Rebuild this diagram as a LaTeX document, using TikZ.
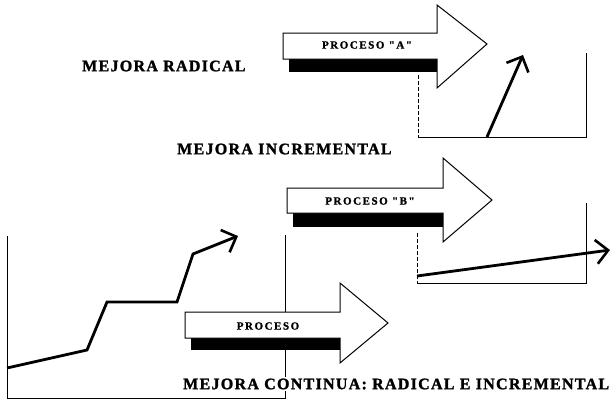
\documentclass[tikz,border=0pt]{standalone}
\usepackage{fontspec}
\setmainfont{Liberation Serif}
\newfontfamily\lblfont[LetterSpace=8, BoldFeatures={FakeBold=1.5}]{Liberation Serif}
\newfontfamily\procfont[LetterSpace=14, BoldFeatures={FakeBold=1.2}]{Liberation Serif}
\usetikzlibrary{arrows.meta}
\tikzset{
  title/.style={font=\lblfont\bfseries\fontsize{16}{18}\selectfont, inner sep=1pt, anchor=west},
  proclabel/.style={font=\procfont\bfseries\fontsize{11}{13}\selectfont, inner sep=1pt},
  body/.style={draw=black, fill=white, line width=1pt, line join=miter},
  shadowbar/.style={fill=black},
  axis/.style={line width=0.8pt},
  axisdash/.style={line width=0.6pt, dash pattern=on 4pt off 2pt},
  trend/.style={line width=2.8pt, line join=miter,
    -{Straight Barb[length=12pt,width=24pt,line width=2.6pt]}},
}
% block arrow: #1 body left, #2 body top, #3 body bottom (white part),
% #4 shadow bottom, #5 head start x, #6 head top, #7 tip x, #8 tip y, #9 head bottom
\newcommand{\blockarrow}[9]{%
  \fill[shadowbar] (#1+6,#3) rectangle (#5,#4);
  \draw[body] (#1,#2) -- (#5,#2) -- (#5,#6) -- (#7,#8) -- (#5,#9) -- (#5,#4)
    -- (#5,#3) -- (#1,#3) -- cycle;
}
\begin{document}
\begin{tikzpicture}[x=1pt,y=-1pt]
\useasboundingbox (0,0) rectangle (610,402);

% ---------- radical improvement ----------
\node[title] (radical) at (81,66) {MEJORA RADICAL};
\blockarrow{283}{33}{59}{72}{437}{5}{487}{44}{88}
\node[proclabel] (procA) at (367,45) {PROCESO "A"};
\coordinate (aTL) at (418,75);
\coordinate (aBL) at (418,137);
\coordinate (aBR) at (586,137);
\coordinate (aTR) at (586,53);
\draw[axisdash] (aTL) -- (aBL);
\draw[axis] (aBL) -- (aBR) -- (aTR);
\coordinate (aS) at (487,137);
\coordinate (aE) at (523,55);
\draw[trend] (aS) -- (aE);

% ---------- incremental improvement ----------
\node[title] (incremental) at (176,149) {MEJORA INCREMENTAL};
\blockarrow{287}{188}{213}{227}{443}{158}{492}{200}{242}
\node[proclabel] (procB) at (370,201) {PROCESO "B"};
\coordinate (bTL) at (417,233);
\coordinate (bBL) at (417,283);
\coordinate (bBR) at (586,283);
\coordinate (bTR) at (586,203);
\draw[axisdash] (bTL) -- (bBL);
\draw[axis] (bBL) -- (bBR) -- (bTR);
\coordinate (bS) at (417,276);
\coordinate (bE) at (610,250);
\draw[trend] (bS) -- (bE);

% ---------- continuous improvement ----------
\coordinate (cTL) at (7,236);
\coordinate (cBL) at (7,398);
\coordinate (cBR) at (285,398);
\coordinate (cTR) at (285,235);
\draw[axis] (cTL) -- (cBL) -- (cBR) -- (cTR);
\coordinate (c0) at (7,368);
\coordinate (c1) at (87,350);
\coordinate (c2) at (107,302);
\coordinate (c3) at (177,302);
\coordinate (c4) at (193,254);
\coordinate (c5) at (238,236);
\draw[trend] (c0) -- (c1) -- (c2) -- (c3) -- (c4) -- (c5);
\blockarrow{185}{312}{338}{350}{340}{283}{388}{323}{363}
\node[proclabel] (procC) at (268,326) {PROCESO};
\node[title, fill=white, inner sep=2pt] (continua) at (181,384)
  {MEJORA CONTINUA: RADICAL E INCREMENTAL};
\end{tikzpicture}
\end{document}
